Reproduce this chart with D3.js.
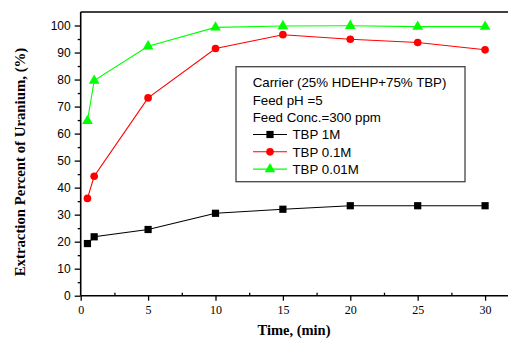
<!DOCTYPE html>
<html><head><meta charset="utf-8">
<script src="https://cdn.jsdelivr.net/npm/d3@7"></script>
<style>body{margin:0;background:#fff}svg{display:block}</style>
</head><body>
<svg id="c" width="508" height="342"></svg>
<script>
const times = [0.5, 1, 5, 10, 15, 20, 25, 30];
const tbp1M = [19.3, 21.8, 24.5, 30.5, 32.0, 33.3, 33.3, 33.3];
const tbp01M = [36.0, 44.2, 73.2, 91.5, 96.6, 94.9, 93.7, 91.0];
const tbp001M = [64.7, 79.6, 92.3, 99.3, 99.8, 99.9, 99.6, 99.6];
const xTicks = [0, 5, 10, 15, 20, 25, 30];
const xMinor = [2.5, 7.5, 12.5, 17.5, 22.5, 27.5];
const yTicks = [0, 10, 20, 30, 40, 50, 60, 70, 80, 90, 100];
const yMinor = [5, 15, 25, 35, 45, 55, 65, 75, 85, 95];
const legendNotes = ["Carrier (25% HDEHP+75% TBP)", "Feed pH =5", "Feed Conc.=300 ppm"];
const seriesNames = ["TBP 1M", "TBP 0.1M", "TBP 0.01M"];

const series = [
  {name: seriesNames[0], values: tbp1M, color: "#000000", shape: d3.symbolSquare, size: 52},
  {name: seriesNames[1], values: tbp01M, color: "#ff0000", shape: d3.symbolCircle, size: 46},
  {name: seriesNames[2], values: tbp001M, color: "#00ff00", shape: d3.symbolTriangle, size: 50}
];

const svg = d3.select("#c");
const L = 80.7, R = 508, T = 12, B = 295.7;
const x = d3.scaleLinear().domain([0, 31.7]).range([L, R]);
const y = d3.scaleLinear().domain([0, 105]).range([B, T]);

// minor ticks
svg.append("g").attr("transform", `translate(0,${B})`)
  .call(d3.axisBottom(x).tickValues(xMinor).tickSize(-3).tickFormat(""))
  .call(g => g.select(".domain").remove())
  .selectAll("line").attr("stroke-width", 1.3);
svg.append("g").attr("transform", `translate(${L},0)`)
  .call(d3.axisLeft(y).tickValues(yMinor).tickSize(3).tickFormat(""))
  .call(g => g.select(".domain").remove())
  .selectAll("line").attr("stroke-width", 1.3);

// major x
const gx = svg.append("g").attr("transform", `translate(0,${B})`)
  .call(d3.axisBottom(x).tickValues(xTicks).tickSize(5).tickPadding(5).tickFormat(d3.format("d")));
gx.select(".domain").remove();
gx.selectAll("line").attr("stroke-width", 1.3);
gx.selectAll("text").attr("font-family", "Liberation Serif").attr("font-size", 12).attr("fill", "#000");

// major y
const gy = svg.append("g").attr("transform", `translate(${L},0)`)
  .call(d3.axisLeft(y).tickValues(yTicks).tickSize(6).tickPadding(4).tickFormat(d3.format("d")));
gy.select(".domain").remove();
gy.selectAll("line").attr("stroke-width", 1.3);
gy.selectAll("text").attr("font-family", "Liberation Sans").attr("font-size", 12).attr("fill", "#000");

// frame lines
svg.append("line").attr("x1", L).attr("x2", R).attr("y1", B).attr("y2", B).attr("stroke", "#000").attr("stroke-width", 1.6);
svg.append("line").attr("x1", L).attr("x2", L).attr("y1", T).attr("y2", B).attr("stroke", "#000").attr("stroke-width", 1.6);
svg.append("line").attr("x1", L).attr("x2", R).attr("y1", T).attr("y2", T).attr("stroke", "#000").attr("stroke-width", 1.6);

// series
const line = d3.line().x(d => x(d[0])).y(d => y(d[1]));
series.forEach(s => {
  const pts = times.map((t, i) => [t, s.values[i]]);
  svg.append("path").datum(pts).attr("d", line).attr("fill", "none").attr("stroke", s.color).attr("stroke-width", 1.1);
  svg.append("g").selectAll("path").data(pts).join("path")
    .attr("transform", d => `translate(${x(d[0])},${y(d[1])})`)
    .attr("d", d3.symbol().type(s.shape).size(s.size))
    .attr("fill", s.color);
});

// legend
const lg = svg.append("g");
lg.append("rect").attr("x", 236).attr("y", 66.7).attr("width", 229).attr("height", 115)
  .attr("fill", "#fff").attr("stroke", "#444").attr("stroke-width", 1.3);
const lineH = 17.3, base0 = 87.3;
legendNotes.forEach((t, i) => {
  lg.append("text").attr("x", 252.7).attr("y", base0 + i * lineH).text(t)
    .attr("font-family", "Liberation Sans").attr("font-size", 13.3).attr("fill", "#000");
});
series.forEach((s, i) => {
  const by = base0 + (i + 3) * lineH;
  const cy = by - 4.7;
  lg.append("line").attr("x1", 253).attr("x2", 287).attr("y1", cy).attr("y2", cy).attr("stroke", s.color).attr("stroke-width", 1.1);
  lg.append("path").attr("transform", `translate(270,${cy})`).attr("d", d3.symbol().type(s.shape).size(s.size)).attr("fill", s.color);
  lg.append("text").attr("x", 292.5).attr("y", by).text(s.name)
    .attr("font-family", "Liberation Sans").attr("font-size", 13.3).attr("fill", "#000");
});

// axis titles
svg.append("text").attr("x", 294).attr("y", 335).attr("text-anchor", "middle")
  .attr("font-family", "Liberation Serif").attr("font-weight", "bold").attr("font-size", 14.5)
  .text("Time, (min)");
svg.append("text").attr("transform", "translate(25,162) rotate(-90)").attr("text-anchor", "middle")
  .attr("font-family", "Liberation Serif").attr("font-weight", "bold").attr("font-size", 14.8)
  .text("Extraction Percent of Uranium, (%)");
</script>
</body></html>
